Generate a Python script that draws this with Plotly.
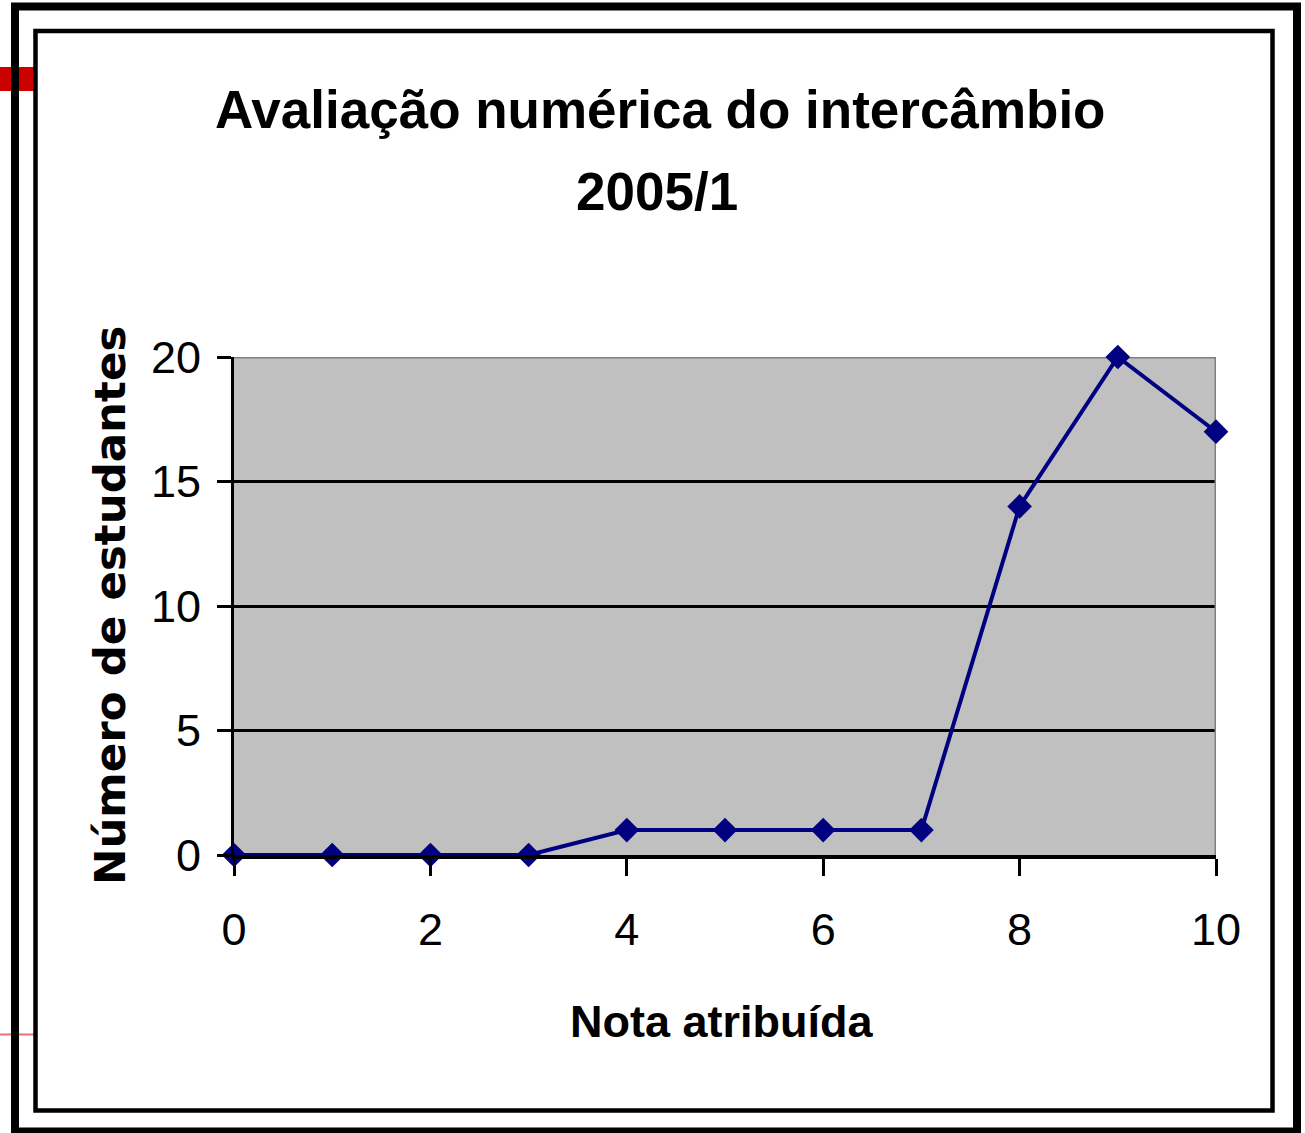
import plotly.graph_objects as go

# Data
notas = [0, 1, 2, 3, 4, 5, 6, 7, 8, 9, 10]
estudantes = [0, 0, 0, 0, 1, 1, 1, 1, 14, 20, 17]
x_ticks = [0, 2, 4, 6, 8, 10]
y_ticks = [0, 5, 10, 15, 20]
title_lines = ["Avaliação numérica do intercâmbio", "2005/1"]
x_title = "Nota atribuída"
y_title = "Número de estudantes"

W, H = 1305, 1133
def px(x):
    return x / W
def py(y):
    return 1 - y / H

SANS = "Liberation Sans, Arial, sans-serif"

fig = go.Figure()
fig.add_trace(go.Scatter(
    x=notas, y=estudantes, mode="lines+markers",
    line=dict(color="#000080", width=4),
    marker=dict(symbol="diamond", size=19, color="#000080"),
    cliponaxis=False, showlegend=False, hoverinfo="skip",
))

fig.update_layout(
    width=W, height=H,
    margin=dict(l=0, r=0, t=0, b=0, pad=0, autoexpand=False),
    paper_bgcolor="white",
    plot_bgcolor="#C0C0C0",
    showlegend=False,
    xaxis=dict(
        domain=[px(234), px(1216)], range=[0, 10],
        tickvals=x_ticks, ticktext=[str(v) for v in x_ticks],
        ticks="outside", ticklen=17, tickwidth=3, tickcolor="black",
        showline=True, linecolor="black", linewidth=4,
        showgrid=False, zeroline=False,
        tickfont=dict(family=SANS, size=45, color="black"),
        ticklabelstandoff=15,
    ),
    yaxis=dict(
        domain=[py(855), py(357)], range=[0, 20],
        tickvals=y_ticks, ticktext=[str(v) for v in y_ticks],
        ticks="outside", ticklen=14, tickwidth=3, tickcolor="black",
        showline=True, linecolor="black", linewidth=3,
        showgrid=True, gridcolor="black", gridwidth=3, zeroline=False,
        tickfont=dict(family=SANS, size=45, color="black"),
        ticklabelstandoff=7,
    ),
)

shapes = []
# gray plot border top & right
shapes.append(dict(type="line", xref="x", yref="y", x0=0, x1=10, y0=20, y1=20,
                   line=dict(color="#808080", width=3), layer="between"))
shapes.append(dict(type="line", xref="x", yref="y", x0=10, x1=10, y0=0, y1=20,
                   line=dict(color="#808080", width=3), layer="between"))
# red decoration
shapes.append(dict(type="rect", xref="paper", yref="paper", x0=px(0), x1=px(34),
                   y0=py(91), y1=py(67), fillcolor="#CC0000", line=dict(width=0), layer="above"))
shapes.append(dict(type="line", xref="paper", yref="paper", x0=px(0), x1=px(34),
                   y0=py(1034.5), y1=py(1034.5), line=dict(color="#E57373", width=2), layer="above"))
# outer frame
shapes.append(dict(type="rect", xref="paper", yref="paper", x0=px(15), x1=px(1297),
                   y0=py(1131.5), y1=py(6.5), line=dict(color="black", width=8), layer="above"))
# inner frame
shapes.append(dict(type="rect", xref="paper", yref="paper", x0=px(35.5), x1=px(1272.5),
                   y0=py(1110.5), y1=py(31), line=dict(color="black", width=4.5), layer="above"))
fig.update_layout(shapes=shapes)

anns = [
    dict(text=f"<b>{title_lines[0]}</b>", x=px(660), y=py(110), xref="paper", yref="paper",
         xanchor="center", yanchor="middle", showarrow=False,
         font=dict(family=SANS, size=53, color="black")),
    dict(text=f"<b>{title_lines[1]}</b>", x=px(656.5), y=py(191.5), xref="paper", yref="paper",
         xanchor="center", yanchor="middle", showarrow=False,
         font=dict(family=SANS, size=53, color="black")),
    dict(text=f"<b>{x_title}</b>", x=px(721), y=py(1021), xref="paper", yref="paper",
         xanchor="center", yanchor="middle", showarrow=False,
         font=dict(family=SANS, size=45, color="black")),
    dict(text=f"<b>{y_title}</b>", x=px(110), y=py(606), xref="paper", yref="paper",
         xanchor="center", yanchor="middle", showarrow=False, textangle=-90,
         font=dict(family="DejaVu Sans, sans-serif", size=43.5, color="black")),
]
fig.update_layout(annotations=anns)

fig.write_html("out.html", include_plotlyjs=True,
               config={"displayModeBar": False},
               post_script="document.body.style.margin='0';document.body.style.overflow='hidden';")
